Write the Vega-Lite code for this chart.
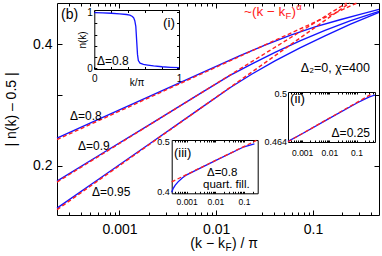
{
  "$schema": "https://vega.github.io/schema/vega-lite/v6.json",
  "width": 322,
  "height": 212,
  "autosize": {"type": "none"},
  "padding": {"left": 57, "top": 3, "right": 3, "bottom": 41},
  "config": {
    "font": "Liberation Sans",
    "view": {"stroke": "black", "strokeWidth": 1},
    "axis": {"grid": false, "domain": false, "tickColor": "black", "tickWidth": 1, "labelColor": "black", "titleColor": "black", "labelFont": "Liberation Sans", "titleFont": "Liberation Sans", "titleFontWeight": "normal", "labelOverlap": false, "domainColor": "black", "domainWidth": 1}
  },
  "datasets": {
    "main": [
      {"s": "0.8", "x": 0.000226, "y": 0.2342}, {"s": "0.8", "x": 0.000629, "y": 0.2615}, {"s": "0.8", "x": 0.002067, "y": 0.2974}, {"s": "0.8", "x": 0.00679, "y": 0.3381}, {"s": "0.8", "x": 0.0176, "y": 0.3748}, {"s": "0.8", "x": 0.0319, "y": 0.398}, {"s": "0.8", "x": 0.05785, "y": 0.4206}, {"s": "0.8", "x": 0.1049, "y": 0.4415}, {"s": "0.8", "x": 0.1902, "y": 0.46}, {"s": "0.8", "x": 0.306, "y": 0.4742}, {"s": "0.8", "x": 0.481, "y": 0.4879},
      {"s": "0.9", "x": 0.000226, "y": 0.1832}, {"s": "0.9", "x": 0.000629, "y": 0.2129}, {"s": "0.9", "x": 0.002067, "y": 0.2533}, {"s": "0.9", "x": 0.00679, "y": 0.3018}, {"s": "0.9", "x": 0.01387, "y": 0.335}, {"s": "0.9", "x": 0.02342, "y": 0.3574}, {"s": "0.9", "x": 0.04047, "y": 0.3817}, {"s": "0.9", "x": 0.07337, "y": 0.4076}, {"s": "0.9", "x": 0.133, "y": 0.4328}, {"s": "0.9", "x": 0.2412, "y": 0.4569}, {"s": "0.9", "x": 0.481, "y": 0.4825},
      {"s": "0.95", "x": 0.000226, "y": 0.157}, {"s": "0.95", "x": 0.000629, "y": 0.1862}, {"s": "0.95", "x": 0.002067, "y": 0.2271}, {"s": "0.95", "x": 0.00679, "y": 0.277}, {"s": "0.95", "x": 0.01387, "y": 0.312}, {"s": "0.95", "x": 0.02342, "y": 0.3375}, {"s": "0.95", "x": 0.04047, "y": 0.3636}, {"s": "0.95", "x": 0.07337, "y": 0.3916}, {"s": "0.95", "x": 0.133, "y": 0.4194}, {"s": "0.95", "x": 0.2412, "y": 0.4479}, {"s": "0.95", "x": 0.481, "y": 0.4797}
    ],
    "fits": [
      {"s": "0.8", "x": 0.000226, "y": 0.2322}, {"s": "0.8", "x": 0.2849, "y": 0.506},
      {"s": "0.9", "x": 0.000226, "y": 0.1822}, {"s": "0.9", "x": 0.2225, "y": 0.506},
      {"s": "0.95", "x": 0.000226, "y": 0.1557}, {"s": "0.95", "x": 0.2394, "y": 0.506}
    ],
    "nk": [
      {"k": 0, "n": 0.992}, {"k": 0.1, "n": 0.988}, {"k": 0.2, "n": 0.982}, {"k": 0.3, "n": 0.972}, {"k": 0.38, "n": 0.96}, {"k": 0.42, "n": 0.948}, {"k": 0.45, "n": 0.925}, {"k": 0.465, "n": 0.9}, {"k": 0.478, "n": 0.85}, {"k": 0.49, "n": 0.75}, {"k": 0.5, "n": 0.5}, {"k": 0.51, "n": 0.25}, {"k": 0.52, "n": 0.14}, {"k": 0.54, "n": 0.095}, {"k": 0.58, "n": 0.072}, {"k": 0.63, "n": 0.06}, {"k": 0.7, "n": 0.045}, {"k": 0.8, "n": 0.03}, {"k": 0.9, "n": 0.02}, {"k": 1, "n": 0.013}
    ],
    "ii_blue": [
      {"x": 0.0003, "y": 0.4641}, {"x": 0.001, "y": 0.4696}, {"x": 0.01, "y": 0.4809}, {"x": 0.1, "y": 0.4922}, {"x": 0.2, "y": 0.4953}, {"x": 0.3, "y": 0.497}, {"x": 0.48, "y": 0.4985}
    ],
    "ii_fit": [
      {"x": 0.0003, "y": 0.4639}, {"x": 0.394, "y": 0.4997}
    ],
    "iii_blue": [
      {"x": 0.0003, "y": 0.398}, {"x": 0.00034, "y": 0.405}, {"x": 0.0004, "y": 0.411}, {"x": 0.0005, "y": 0.417}, {"x": 0.0007, "y": 0.4245}, {"x": 0.001, "y": 0.4305}, {"x": 0.01, "y": 0.4592}, {"x": 0.1, "y": 0.4888}, {"x": 0.23, "y": 0.4955}
    ],
    "iii_fit": [
      {"x": 0.0003, "y": 0.417}, {"x": 0.27, "y": 0.503}
    ]
  },
  "layer": [
    {
      "layer": [
        {
          "data": {"name": "main"},
          "mark": {"type": "line", "color": "#1414ff", "strokeWidth": 1.4},
          "encoding": {
            "x": {"field": "x", "type": "quantitative", "scale": {"type": "log", "domain": [0.000226, 0.481], "nice": false},
              "axis": {"orient": "bottom", "values": [0.001, 0.01, 0.1], "tickSize": -5, "labelPadding": 12, "labelFontSize": 14, "labelFlush": false, "labelExpr": "format(datum.value, '~g')", "title": null}},
            "y": {"field": "y", "type": "quantitative", "scale": {"type": "log", "domain": [0.151, 0.506], "nice": false},
              "axis": {"orient": "left", "values": [0.2, 0.3, 0.4], "tickSize": -5, "labelPadding": 10, "labelFontSize": 14, "labelExpr": "datum.value === 0.3 ? '' : format(datum.value, '.1f')", "title": "|  n(k)  –  0.5  |", "titleFontSize": 14, "titlePadding": 14}},
            "detail": {"field": "s"}
          }
        },
        {
          "data": {"name": "fits"},
          "mark": {"type": "line", "color": "#ff2020", "strokeWidth": 1.4, "strokeDash": [4, 2.5]},
          "encoding": {
            "x": {"field": "x", "type": "quantitative", "scale": {"type": "log", "domain": [0.000226, 0.481], "nice": false},
              "axis": {"orient": "top", "values": [0.001, 0.01, 0.1], "tickSize": -5, "labels": false, "title": null}},
            "y": {"field": "y", "type": "quantitative", "scale": {"type": "log", "domain": [0.151, 0.506], "nice": false},
              "axis": {"orient": "right", "values": [0.2, 0.3, 0.4], "tickSize": -5, "labels": false, "title": null}},
            "detail": {"field": "s"}
          }
        },
        {
          "data": {"values": [{"t": "Δ=0.8", "x": 0.000308, "y": 0.2596}, {"t": "Δ=0.9", "x": 0.000372, "y": 0.2187}, {"t": "Δ=0.95", "x": 0.00052, "y": 0.168}]},
          "mark": {"type": "text", "align": "left", "baseline": "alphabetic", "fontSize": 12, "color": "black"},
          "encoding": {
            "x": {"field": "x", "type": "quantitative", "scale": {"type": "log", "domain": [0.000226, 0.481], "nice": false},
              "axis": {"orient": "bottom", "values": [0.0003, 0.0004, 0.0005, 0.0006, 0.0007, 0.0008, 0.0009, 0.002, 0.003, 0.004, 0.005, 0.006, 0.007, 0.008, 0.009, 0.02, 0.03, 0.04, 0.05, 0.06, 0.07, 0.08, 0.09, 0.2, 0.3, 0.4], "tickSize": -3, "labels": false, "title": null}},
            "y": {"field": "y", "type": "quantitative", "scale": {"type": "log", "domain": [0.151, 0.506], "nice": false}, "axis": null},
            "text": {"field": "t"}
          }
        },
        {
          "data": {"values": [{"t": "(b)", "x": 0.000249, "y": 0.4623}]},
          "mark": {"type": "text", "align": "left", "baseline": "alphabetic", "fontSize": 14, "color": "black"},
          "encoding": {
            "x": {"field": "x", "type": "quantitative", "scale": {"type": "log", "domain": [0.000226, 0.481], "nice": false},
              "axis": {"orient": "top", "values": [0.0003, 0.0004, 0.0005, 0.0006, 0.0007, 0.0008, 0.0009, 0.002, 0.003, 0.004, 0.005, 0.006, 0.007, 0.008, 0.009, 0.02, 0.03, 0.04, 0.05, 0.06, 0.07, 0.08, 0.09, 0.2, 0.3, 0.4], "tickSize": -3, "labels": false, "title": null}},
            "y": {"field": "y", "type": "quantitative", "scale": {"type": "log", "domain": [0.151, 0.506], "nice": false}, "axis": null},
            "text": {"field": "t"}
          }
        },
        {
          "data": {"values": [{"t": "Δ₂=0, χ=400", "x": 0.388, "y": 0.3415}]},
          "mark": {"type": "text", "align": "right", "baseline": "alphabetic", "fontSize": 12.5, "color": "black"},
          "encoding": {
            "x": {"field": "x", "type": "quantitative", "scale": {"type": "log", "domain": [0.000226, 0.481], "nice": false}, "axis": null},
            "y": {"field": "y", "type": "quantitative", "scale": {"type": "log", "domain": [0.151, 0.506], "nice": false}, "axis": null},
            "text": {"field": "t"}
          }
        },
        {
          "data": {"values": [{"t": "~(k − k", "x": 0.05172, "y": 0.4702}]},
          "mark": {"type": "text", "align": "right", "baseline": "alphabetic", "fontSize": 13.5, "color": "#ff2020"},
          "encoding": {
            "x": {"field": "x", "type": "quantitative", "scale": {"type": "log", "domain": [0.000226, 0.481], "nice": false}, "axis": null},
            "y": {"field": "y", "type": "quantitative", "scale": {"type": "log", "domain": [0.151, 0.506], "nice": false}, "axis": null},
            "text": {"field": "t"}
          }
        },
        {
          "data": {"values": [{"t": "F", "x": 0.05172, "y": 0.4702}]},
          "mark": {"type": "text", "align": "left", "baseline": "alphabetic", "fontSize": 9.5, "dx": 0.3, "dy": 3, "color": "#ff2020"},
          "encoding": {
            "x": {"field": "x", "type": "quantitative", "scale": {"type": "log", "domain": [0.000226, 0.481], "nice": false}, "axis": null},
            "y": {"field": "y", "type": "quantitative", "scale": {"type": "log", "domain": [0.151, 0.506], "nice": false}, "axis": null},
            "text": {"field": "t"}
          }
        },
        {
          "data": {"values": [{"t": ")", "x": 0.05172, "y": 0.4702}]},
          "mark": {"type": "text", "align": "left", "baseline": "alphabetic", "fontSize": 13.5, "dx": 6.3, "color": "#ff2020"},
          "encoding": {
            "x": {"field": "x", "type": "quantitative", "scale": {"type": "log", "domain": [0.000226, 0.481], "nice": false}, "axis": null},
            "y": {"field": "y", "type": "quantitative", "scale": {"type": "log", "domain": [0.151, 0.506], "nice": false}, "axis": null},
            "text": {"field": "t"}
          }
        },
        {
          "data": {"values": [{"t": "α", "x": 0.05172, "y": 0.4702}]},
          "mark": {"type": "text", "align": "left", "baseline": "alphabetic", "fontSize": 9.5, "dx": 11, "dy": -6, "color": "#ff2020"},
          "encoding": {
            "x": {"field": "x", "type": "quantitative", "scale": {"type": "log", "domain": [0.000226, 0.481], "nice": false}, "axis": null},
            "y": {"field": "y", "type": "quantitative", "scale": {"type": "log", "domain": [0.151, 0.506], "nice": false}, "axis": null},
            "text": {"field": "t"}
          }
        },
        {
          "data": {"values": [{"t": "(k − k", "x": 0.01231, "y": 0.1249}]},
          "mark": {"type": "text", "align": "right", "baseline": "alphabetic", "fontSize": 14, "color": "black"},
          "encoding": {
            "x": {"field": "x", "type": "quantitative", "scale": {"type": "log", "domain": [0.000226, 0.481], "nice": false}, "axis": null},
            "y": {"field": "y", "type": "quantitative", "scale": {"type": "log", "domain": [0.151, 0.506], "nice": false}, "axis": null},
            "text": {"field": "t"}
          }
        },
        {
          "data": {"values": [{"t": "F", "x": 0.01231, "y": 0.1249}]},
          "mark": {"type": "text", "align": "left", "baseline": "alphabetic", "fontSize": 10, "dx": 0.5, "dy": 3, "color": "black"},
          "encoding": {
            "x": {"field": "x", "type": "quantitative", "scale": {"type": "log", "domain": [0.000226, 0.481], "nice": false}, "axis": null},
            "y": {"field": "y", "type": "quantitative", "scale": {"type": "log", "domain": [0.151, 0.506], "nice": false}, "axis": null},
            "text": {"field": "t"}
          }
        },
        {
          "data": {"values": [{"t": ") / π", "x": 0.01231, "y": 0.1249}]},
          "mark": {"type": "text", "align": "left", "baseline": "alphabetic", "fontSize": 14, "dx": 7, "color": "black"},
          "encoding": {
            "x": {"field": "x", "type": "quantitative", "scale": {"type": "log", "domain": [0.000226, 0.481], "nice": false}, "axis": null},
            "y": {"field": "y", "type": "quantitative", "scale": {"type": "log", "domain": [0.151, 0.506], "nice": false}, "axis": null},
            "text": {"field": "t"}
          }
        }
      ],
      "resolve": {"axis": {"x": "independent", "y": "independent"}}
    },
    {
      "layer": [
        {
          "data": {"name": "nk"},
          "mark": {"type": "line", "color": "#1414ff", "strokeWidth": 1.3},
          "encoding": {
            "x": {"field": "k", "type": "quantitative", "scale": {"domain": [0, 1], "range": [37.3, 122], "nice": false, "zero": false},
              "axis": {"orient": "bottom", "offset": -146, "values": [0, 0.2, 0.4, 0.6, 0.8, 1], "tickSize": -2.5, "labelPadding": 6.5, "labelFontSize": 10, "labelFlush": false, "labelExpr": "datum.value === 0 ? '0' : datum.value === 1 ? '1' : ''", "title": "k/π", "titleFontSize": 10, "titlePadding": -6, "domain": true}},
            "y": {"field": "n", "type": "quantitative", "scale": {"domain": [-0.01, 1.04], "range": [66, 7], "nice": false, "zero": false},
              "axis": {"orient": "left", "offset": -37.3, "values": [0, 0.2, 0.4, 0.6, 0.8, 1], "tickSize": -2.5, "labelPadding": 4.5, "labelFontSize": 10, "labelExpr": "datum.value === 0 ? '0' : datum.value === 1 ? '1' : ''", "title": "n(k)", "titleFontSize": 10, "titlePadding": -1, "domain": true}}
          }
        },
        {
          "data": {"values": [{"t": "Δ=0.8", "k": 0.032, "n": 0.061}]},
          "mark": {"type": "text", "align": "left", "baseline": "alphabetic", "fontSize": 12, "color": "black"},
          "encoding": {
            "x": {"field": "k", "type": "quantitative", "scale": {"domain": [0, 1], "range": [37.3, 122], "nice": false, "zero": false},
              "axis": {"orient": "top", "offset": -7, "values": [0, 0.2, 0.4, 0.6, 0.8, 1], "tickSize": -2.5, "labels": false, "title": null, "domain": true}},
            "y": {"field": "n", "type": "quantitative", "scale": {"domain": [-0.01, 1.04], "range": [66, 7], "nice": false, "zero": false},
              "axis": {"orient": "right", "offset": -200, "values": [0, 0.2, 0.4, 0.6, 0.8, 1], "tickSize": -2.5, "labels": false, "title": null, "domain": true}},
            "text": {"field": "t"}
          }
        },
        {
          "data": {"values": [{"t": "(i)", "k": 0.953, "n": 0.737}]},
          "mark": {"type": "text", "align": "right", "baseline": "alphabetic", "fontSize": 13.5, "color": "black"},
          "encoding": {
            "x": {"field": "k", "type": "quantitative", "scale": {"domain": [0, 1], "range": [37.3, 122], "nice": false, "zero": false}, "axis": null},
            "y": {"field": "n", "type": "quantitative", "scale": {"domain": [-0.01, 1.04], "range": [66, 7], "nice": false, "zero": false}, "axis": null},
            "text": {"field": "t"}
          }
        }
      ]
    },
    {
      "layer": [
        {
          "data": {"name": "ii_blue"},
          "mark": {"type": "line", "color": "#1414ff", "strokeWidth": 1.3},
          "encoding": {
            "x": {"field": "x", "type": "quantitative", "scale": {"type": "log", "domain": [0.0003, 0.48], "range": [231, 318], "nice": false},
              "axis": {"orient": "bottom", "offset": -73, "values": [0.0004, 0.0005, 0.0006, 0.0007, 0.0008, 0.0009, 0.001, 0.002, 0.003, 0.004, 0.005, 0.006, 0.007, 0.008, 0.009, 0.01, 0.02, 0.03, 0.04, 0.05, 0.06, 0.07, 0.08, 0.09, 0.1, 0.2, 0.3, 0.4], "tickSize": -2, "labelPadding": 8, "labelFontSize": 8.5, "labelFlush": false, "labelExpr": "(datum.value === 0.001 || datum.value === 0.01 || datum.value === 0.1) ? format(datum.value, '~g') : ''", "title": null, "domain": true}},
            "y": {"field": "y", "type": "quantitative", "scale": {"type": "log", "domain": [0.4637, 0.5008], "range": [139, 89], "nice": false},
              "axis": {"orient": "left", "offset": -231, "values": [0.464, 0.5], "ticks": false, "labelPadding": 1.5, "labelFontSize": 9, "labelExpr": "datum.value === 0.5 ? '0.5' : '0.464'", "title": null, "domain": true}}
          }
        },
        {
          "data": {"name": "ii_fit"},
          "mark": {"type": "line", "color": "#ff2020", "strokeWidth": 1.3, "strokeDash": [4, 2.5]},
          "encoding": {
            "x": {"field": "x", "type": "quantitative", "scale": {"type": "log", "domain": [0.0003, 0.48], "range": [231, 318], "nice": false},
              "axis": {"orient": "top", "offset": -89, "values": [0.0004, 0.0005, 0.0006, 0.0007, 0.0008, 0.0009, 0.001, 0.002, 0.003, 0.004, 0.005, 0.006, 0.007, 0.008, 0.009, 0.01, 0.02, 0.03, 0.04, 0.05, 0.06, 0.07, 0.08, 0.09, 0.1, 0.2, 0.3, 0.4], "tickSize": -2, "labels": false, "title": null, "domain": true}},
            "y": {"field": "y", "type": "quantitative", "scale": {"type": "log", "domain": [0.4637, 0.5008], "range": [139, 89], "nice": false},
              "axis": {"orient": "right", "offset": -4, "ticks": false, "labels": false, "title": null, "domain": true}}
          }
        },
        {
          "data": {"values": [{"t": "(ii)", "x": 0.000356, "y": 0.4924}]},
          "mark": {"type": "text", "align": "left", "baseline": "alphabetic", "fontSize": 13.5, "color": "black"},
          "encoding": {
            "x": {"field": "x", "type": "quantitative", "scale": {"type": "log", "domain": [0.0003, 0.48], "range": [231, 318], "nice": false}, "axis": null},
            "y": {"field": "y", "type": "quantitative", "scale": {"type": "log", "domain": [0.4637, 0.5008], "range": [139, 89], "nice": false}, "axis": null},
            "text": {"field": "t"}
          }
        },
        {
          "data": {"values": [{"t": "Δ=0.25", "x": 0.314, "y": 0.4674}]},
          "mark": {"type": "text", "align": "right", "baseline": "alphabetic", "fontSize": 12, "color": "black"},
          "encoding": {
            "x": {"field": "x", "type": "quantitative", "scale": {"type": "log", "domain": [0.0003, 0.48], "range": [231, 318], "nice": false}, "axis": null},
            "y": {"field": "y", "type": "quantitative", "scale": {"type": "log", "domain": [0.4637, 0.5008], "range": [139, 89], "nice": false}, "axis": null},
            "text": {"field": "t"}
          }
        }
      ]
    },
    {
      "layer": [
        {
          "data": {"name": "iii_blue"},
          "mark": {"type": "line", "color": "#1414ff", "strokeWidth": 1.3},
          "encoding": {
            "x": {"field": "x", "type": "quantitative", "scale": {"type": "log", "domain": [0.0003, 0.3], "range": [114.7, 200.7], "nice": false},
              "axis": {"orient": "bottom", "offset": -21.7, "values": [0.0004, 0.0005, 0.0006, 0.0007, 0.0008, 0.0009, 0.001, 0.002, 0.003, 0.004, 0.005, 0.006, 0.007, 0.008, 0.009, 0.01, 0.02, 0.03, 0.04, 0.05, 0.06, 0.07, 0.08, 0.09, 0.1, 0.2], "tickSize": -2, "labelPadding": 6.5, "labelFontSize": 8.5, "labelFlush": false, "labelExpr": "(datum.value === 0.001 || datum.value === 0.01 || datum.value === 0.1) ? format(datum.value, '~g') : ''", "title": null, "domain": true}},
            "y": {"field": "y", "type": "quantitative", "scale": {"type": "log", "domain": [0.396, 0.504], "range": [190.3, 137], "nice": false},
              "axis": {"orient": "left", "offset": -114.7, "values": [0.4, 0.5], "ticks": false, "labelPadding": 2.5, "labelFontSize": 9, "labelExpr": "format(datum.value, '.1f')", "title": null, "domain": true}}
          }
        },
        {
          "data": {"name": "iii_fit"},
          "mark": {"type": "line", "color": "#ff2020", "strokeWidth": 1.3, "strokeDash": [4, 2.5]},
          "encoding": {
            "x": {"field": "x", "type": "quantitative", "scale": {"type": "log", "domain": [0.0003, 0.3], "range": [114.7, 200.7], "nice": false},
              "axis": {"orient": "top", "offset": -137, "values": [0.0004, 0.0005, 0.0006, 0.0007, 0.0008, 0.0009, 0.001, 0.002, 0.003, 0.004, 0.005, 0.006, 0.007, 0.008, 0.009, 0.01, 0.02, 0.03, 0.04, 0.05, 0.06, 0.07, 0.08, 0.09, 0.1, 0.2], "tickSize": -2, "labels": false, "title": null, "domain": true}},
            "y": {"field": "y", "type": "quantitative", "scale": {"type": "log", "domain": [0.396, 0.504], "range": [190.3, 137], "nice": false},
              "axis": {"orient": "right", "offset": -121.3, "ticks": false, "labels": false, "title": null, "domain": true}}
          }
        },
        {
          "data": {"values": [{"t": "(iii)", "x": 0.00036, "y": 0.4668}]},
          "mark": {"type": "text", "align": "left", "baseline": "alphabetic", "fontSize": 13, "color": "black"},
          "encoding": {
            "x": {"field": "x", "type": "quantitative", "scale": {"type": "log", "domain": [0.0003, 0.3], "range": [114.7, 200.7], "nice": false}, "axis": null},
            "y": {"field": "y", "type": "quantitative", "scale": {"type": "log", "domain": [0.396, 0.504], "range": [190.3, 137], "nice": false}, "axis": null},
            "text": {"field": "t"}
          }
        },
        {
          "data": {"values": [{"t": "Δ=0.8", "x": 0.0051, "y": 0.4292}, {"t": "quart. fill.", "x": 0.00371, "y": 0.4056}]},
          "mark": {"type": "text", "align": "left", "baseline": "alphabetic", "fontSize": 11.5, "color": "black"},
          "encoding": {
            "x": {"field": "x", "type": "quantitative", "scale": {"type": "log", "domain": [0.0003, 0.3], "range": [114.7, 200.7], "nice": false}, "axis": null},
            "y": {"field": "y", "type": "quantitative", "scale": {"type": "log", "domain": [0.396, 0.504], "range": [190.3, 137], "nice": false}, "axis": null},
            "text": {"field": "t"}
          }
        }
      ]
    }
  ],
  "resolve": {"scale": {"x": "independent", "y": "independent"}, "axis": {"x": "independent", "y": "independent"}}
}
